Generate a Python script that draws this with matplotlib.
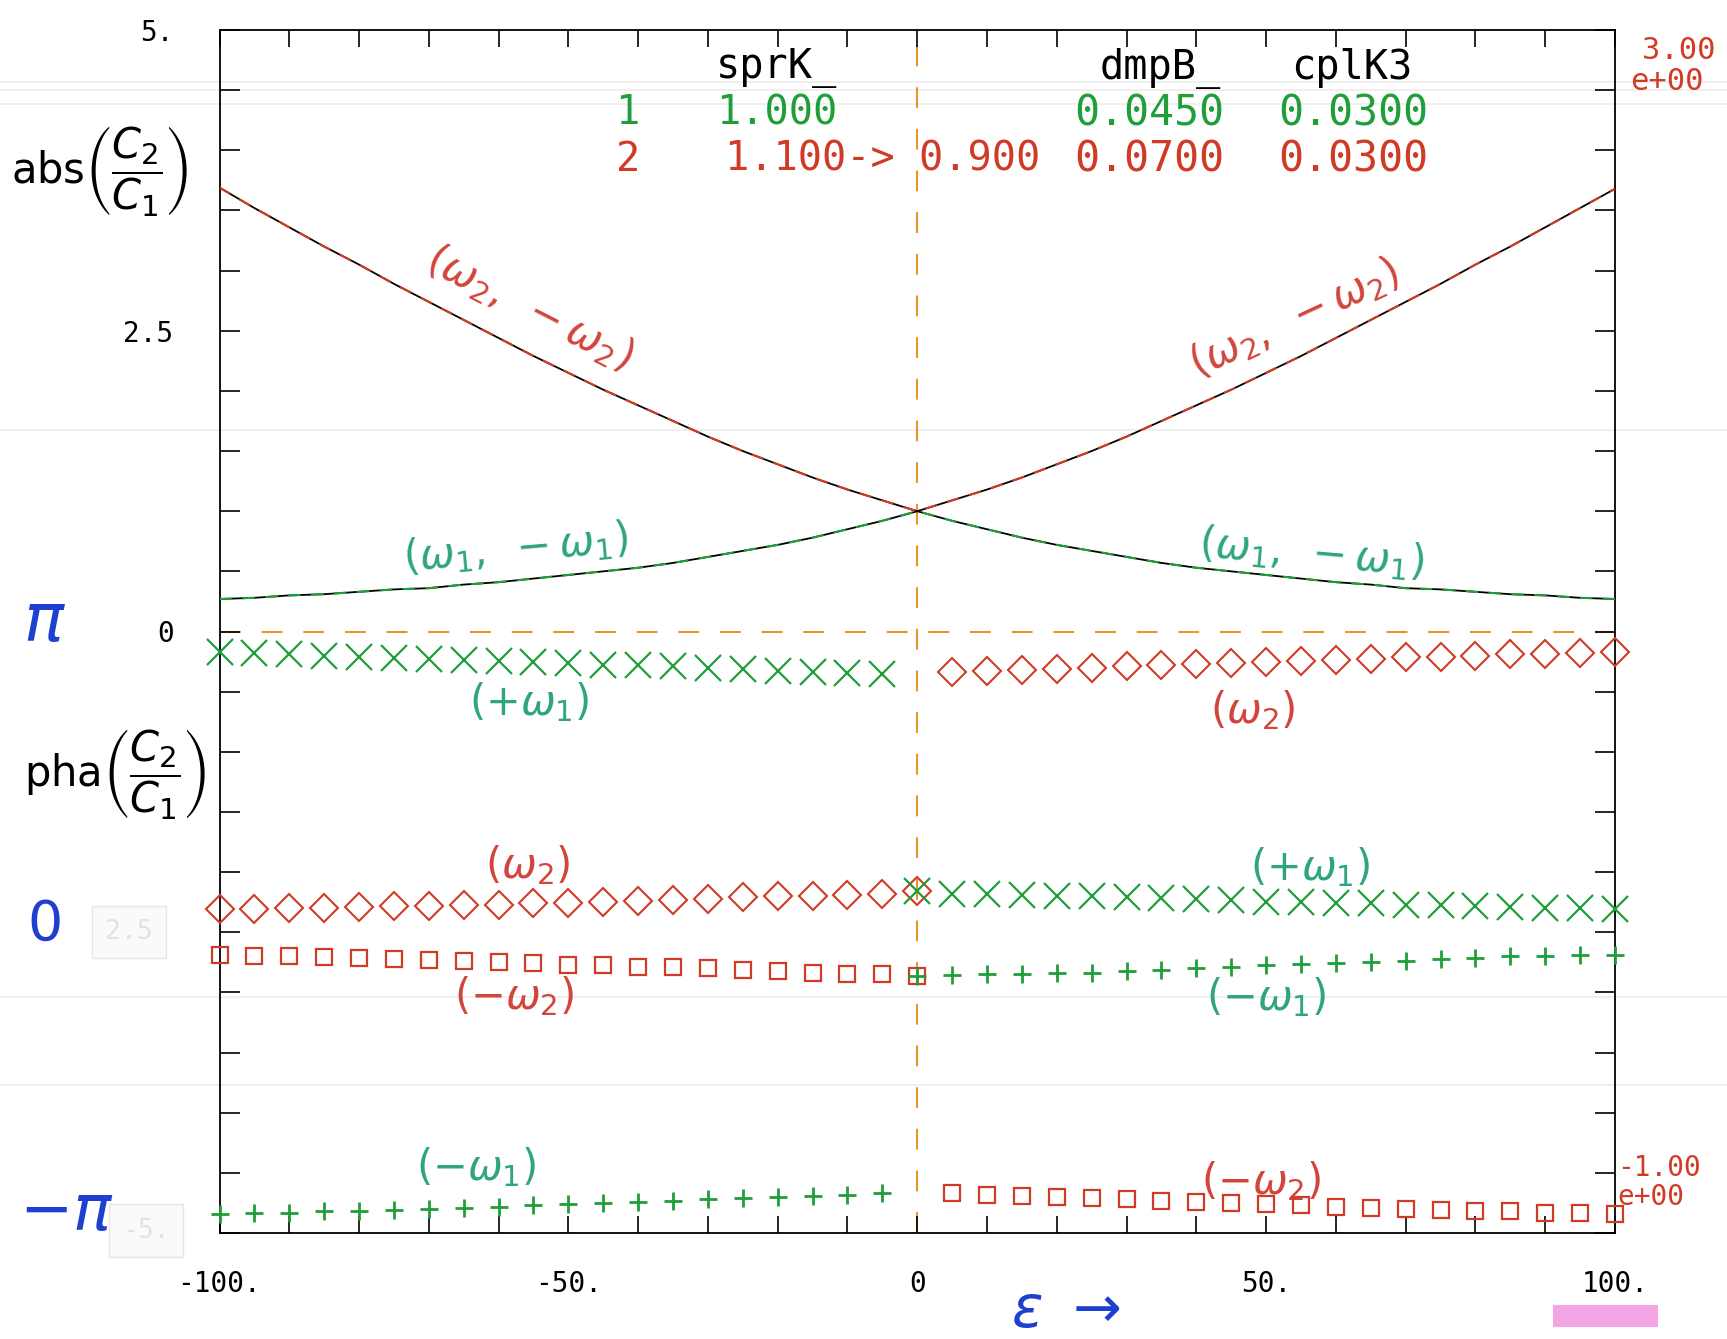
from matplotlib import pyplot
from matplotlib.lines import Line2D

pyplot.rcParams['font.family'] = ['DejaVu Sans Mono', 'DejaVu Sans']

# epsilon scan, amplitude ratio curves (step 5)
eps_curve = list(range(-100, 101, 5))
abs_w2 = [3.69, 3.52, 3.36, 3.20, 3.05, 2.89, 2.74, 2.59, 2.44, 2.29, 2.15,
          2.01, 1.88, 1.75, 1.62, 1.50, 1.39, 1.28, 1.18, 1.09, 1.00,
          1.09, 1.18, 1.28, 1.39, 1.50, 1.62, 1.75, 1.88, 2.01, 2.15,
          2.29, 2.44, 2.59, 2.74, 2.89, 3.05, 3.20, 3.36, 3.52, 3.68]
abs_w1 = [0.27, 0.28, 0.30, 0.31, 0.33, 0.35, 0.36, 0.39, 0.41, 0.44, 0.47,
          0.50, 0.53, 0.57, 0.62, 0.67, 0.72, 0.78, 0.85, 0.92, 1.00,
          0.92, 0.85, 0.78, 0.72, 0.67, 0.62, 0.57, 0.53, 0.50, 0.47,
          0.44, 0.41, 0.39, 0.36, 0.35, 0.33, 0.31, 0.30, 0.28, 0.27]

# phase points (plotted in the lower half of the frame)
eps_left = list(range(-100, 0, 5))     # -100 .. -5
eps_left0 = list(range(-100, 1, 5))    # -100 .. 0
eps_right = list(range(5, 101, 5))     # 5 .. 100
eps_right0 = list(range(0, 101, 5))    # 0 .. 100

pha_pw1_left = [-0.17, -0.18, -0.19, -0.20, -0.21, -0.22, -0.23, -0.235, -0.245, -0.255,
                -0.26, -0.275, -0.28, -0.29, -0.30, -0.315, -0.325, -0.335, -0.345, -0.355]
pha_pw1_right = [-2.16, -2.18, -2.185, -2.19, -2.195, -2.20, -2.21, -2.215, -2.225, -2.235, -2.245,
                 -2.25, -2.255, -2.26, -2.27, -2.275, -2.28, -2.29, -2.295, -2.30, -2.31]
pha_w2_left = [-2.31, -2.305, -2.30, -2.295, -2.29, -2.285, -2.28, -2.275, -2.27, -2.26, -2.255,
               -2.25, -2.24, -2.23, -2.22, -2.21, -2.20, -2.195, -2.19, -2.185, -2.16]
pha_w2_right = [-0.34, -0.33, -0.32, -0.31, -0.30, -0.29, -0.28, -0.27, -0.26, -0.25,
                -0.245, -0.235, -0.225, -0.215, -0.21, -0.20, -0.19, -0.185, -0.175, -0.17]
pha_mw2_left = [-2.69, -2.695, -2.70, -2.705, -2.71, -2.725, -2.73, -2.74, -2.745, -2.755, -2.77,
                -2.775, -2.785, -2.79, -2.80, -2.815, -2.825, -2.835, -2.845, -2.85, -2.86]
pha_mw2_right = [-4.67, -4.68, -4.69, -4.70, -4.71, -4.72, -4.73, -4.74, -4.75, -4.76,
                 -4.77, -4.78, -4.79, -4.80, -4.81, -4.815, -4.82, -4.83, -4.835, -4.84]
pha_mw1_left = [-4.84, -4.835, -4.83, -4.82, -4.815, -4.81, -4.80, -4.79, -4.78, -4.77,
                -4.76, -4.75, -4.74, -4.73, -4.72, -4.71, -4.70, -4.69, -4.68, -4.67]
pha_mw1_right = [-2.86, -2.855, -2.85, -2.845, -2.84, -2.835, -2.825, -2.815, -2.80, -2.79, -2.775,
                 -2.765, -2.755, -2.745, -2.735, -2.72, -2.71, -2.70, -2.695, -2.69, -2.685]

x_ticks = list(range(-100, 101, 10))
x_ticklabels = {-100: '-100.', -50: '-50.', 0: '0', 50: '50.', 100: '100.'}
y_ticks = [v / 2 for v in range(-10, 11)]
y_ticklabels = {5.0: '5.', 2.5: '2.5', 0.0: '0'}

# table of run parameters
head_cols = ['sprK_', 'dmpB_', 'cplK3']
run1 = ['1', '1.000', '0.0450', '0.0300']
run2 = ['2', '1.100-> 0.900', '0.0700', '0.0300']

GREEN = '#1f9e3a'
RED = '#d13a24'
ORANGE = '#e8962a'
PEN_RED = '#d2453c'
PEN_GREEN = '#2ea57e'
PEN_BLUE = '#1f3fd0'

W, H = 1727, 1339
fig = pyplot.figure(figsize=(W / 100, H / 100), dpi=100)
fig.patch.set_facecolor('white')

# faint ruled lines from the paper
for yy in [82, 90, 104, 430, 997, 1085]:
    fig.add_artist(Line2D([0, 1], [1 - yy / H] * 2, transform=fig.transFigure,
                          color='#ececec', lw=1.2, zorder=0))

ax = fig.add_axes([219.5 / W, 1 - 1233 / H, (1615 - 219.5) / W, 1203 / H])
ax.patch.set_facecolor('none')
ax.set_xlim(-100, 100)
ax.set_ylim(-5, 5)

# dashed zero lines
ax.axhline(0, color=ORANGE, lw=1.5, dashes=(10, 10), zorder=1)
ax.axvline(0, color=ORANGE, lw=1.5, dashes=(10, 10), zorder=1)

# amplitude ratio: black trace with the coloured one dashed over it
ax.plot(eps_curve, abs_w2, color='k', lw=1.3, zorder=2)
ax.plot(eps_curve, abs_w2, color=RED, lw=1.5, dashes=(6, 5), zorder=3)
ax.plot(eps_curve, abs_w1, color='k', lw=1.3, zorder=2)
ax.plot(eps_curve, abs_w1, color=GREEN, lw=1.5, dashes=(6, 5), zorder=3)

# phase markers
mk = dict(ls='none', clip_on=False, zorder=4)
ax.plot(eps_left0, pha_w2_left, marker='D', ms=14, mfc='none', mec=RED, mew=1.5, **mk)
ax.plot(eps_right, pha_w2_right, marker='D', ms=14, mfc='none', mec=RED, mew=1.5, **mk)
ax.plot(eps_left, pha_pw1_left, marker='x', ms=19, mec=GREEN, mew=1.6, **mk)
ax.plot(eps_right0, pha_pw1_right, marker='x', ms=19, mec=GREEN, mew=1.6, **mk)
ax.plot(eps_left0, pha_mw2_left, marker='s', ms=12, mfc='none', mec=RED, mew=1.6, **mk)
ax.plot(eps_right, pha_mw2_right, marker='s', ms=12, mfc='none', mec=RED, mew=1.6, **mk)
ax.plot(eps_left, pha_mw1_left, marker='+', ms=13, mec=GREEN, mew=2.0, **mk)
ax.plot(eps_right0, pha_mw1_right, marker='+', ms=13, mec=GREEN, mew=2.0, **mk)

# ticks on all four sides, pointing in
ax.set_xticks(x_ticks)
ax.set_xticklabels([x_ticklabels.get(t, '') for t in x_ticks])
ax.set_yticks(y_ticks)
ax.set_yticklabels([y_ticklabels.get(t, '') for t in y_ticks])
ax.tick_params(axis='x', direction='in', top=True, bottom=True, length=12, width=1.2,
               pad=27, labelsize=20)
ax.tick_params(axis='y', direction='in', left=True, right=True, length=14.5, width=1.2,
               pad=33, labelsize=20)
for sp in ax.spines.values():
    sp.set_linewidth(1.3)

# parameter table
ax.text(-28.8, 4.68, head_cols[0], fontsize=29, va='center')
ax.text(26.1, 4.68, head_cols[1], fontsize=29, va='center')
ax.text(53.6, 4.68, head_cols[2], fontsize=29, va='center')
for row, yy, col in [(run1, 4.31, GREEN), (run2, 3.92, RED)]:
    ax.text(-41.5, yy, row[0], fontsize=29, va='center', ha='center', color=col)
    ax.text(-28.8 if row is run1 else -27.5, yy, row[1], fontsize=29, va='center', color=col)
    ax.text(22.5, yy, row[2], fontsize=30, va='center', color=col)
    ax.text(51.7, yy, row[3], fontsize=30, va='center', color=col)

# right-hand scale values
ax.text(103.9, 4.83, '3.00', fontsize=22, va='center', color=RED, clip_on=False)
ax.text(102.2, 4.57, 'e+00', fontsize=22, va='center', color=RED, clip_on=False)
ax.text(100.3, -4.46, '-1.00', fontsize=20, va='center', color=RED, clip_on=False)
ax.text(100.4, -4.70, 'e+00', fontsize=20, va='center', color=RED, clip_on=False)

# whited-out left labels
ax.text(-113, -2.5, '2.5', fontsize=19, ha='center', va='center', color='#e2e2e2',
        bbox=dict(boxstyle='square,pad=0.5', fc='#fafafa', ec='#e6e6e6'), clip_on=False)
ax.text(-110.5, -4.98, '-5.', fontsize=19, ha='center', va='center', color='#e2e2e2',
        bbox=dict(boxstyle='square,pad=0.5', fc='#fafafa', ec='#e6e6e6'), clip_on=False)

# pen notes along the branches
pen = dict(fontsize=30, ha='center', va='center', clip_on=False)
ax.text(-55.6, 2.69, r'$(\omega_2,\ -\omega_2)$', color=PEN_RED, rotation=-27, **pen)
ax.text(54.0, 2.60, r'$(\omega_2,\ -\omega_2)$', color=PEN_RED, rotation=25, **pen)
ax.text(-57.6, 0.69, r'$(\omega_1,\ -\omega_1)$', color=PEN_GREEN, rotation=5, **pen)
ax.text(56.5, 0.65, r'$(\omega_1,\ -\omega_1)$', color=PEN_GREEN, rotation=-5, **pen)
ax.text(-55.6, -0.59, r'$(+\omega_1)$', color=PEN_GREEN, **pen)
ax.text(48.1, -0.65, r'$(\omega_2)$', color=PEN_RED, **pen)
ax.text(-55.8, -1.94, r'$(\omega_2)$', color=PEN_RED, **pen)
ax.text(56.3, -1.96, r'$(+\omega_1)$', color=PEN_GREEN, **pen)
ax.text(-57.7, -3.03, r'$(-\omega_2)$', color=PEN_RED, **pen)
ax.text(50.0, -3.04, r'$(-\omega_1)$', color=PEN_GREEN, **pen)
ax.text(-63.2, -4.45, r'$(-\omega_1)$', color=PEN_GREEN, **pen)
ax.text(49.3, -4.57, r'$(-\omega_2)$', color=PEN_RED, **pen)

# axis names written by hand
fig.text(100 / W, 1 - 172 / H, r'abs$\left(\dfrac{C_2}{C_1}\right)$', fontsize=30,
         ha='center', va='center', family='DejaVu Sans')
fig.text(115 / W, 1 - 775 / H, r'pha$\left(\dfrac{C_2}{C_1}\right)$', fontsize=30,
         ha='center', va='center', family='DejaVu Sans')
fig.text(44 / W, 1 - 622 / H, r'$\pi$', fontsize=48, color=PEN_BLUE, ha='center', va='center')
fig.text(44 / W, 1 - 925 / H, r'$0$', fontsize=40, color=PEN_BLUE, ha='center', va='center')
fig.text(66 / W, 1 - 1212 / H, r'$-\pi$', fontsize=46, color=PEN_BLUE, ha='center', va='center')
fig.text(1066 / W, 1 - 1310 / H, r'$\epsilon\ \rightarrow$', fontsize=42, color=PEN_BLUE,
         ha='center', va='center')

# highlighter stroke under the last x label
fig.add_artist(Line2D([1553 / W, 1658 / W], [1 - 1316 / H] * 2, transform=fig.transFigure,
                      color='#f3a5e6', lw=16, solid_capstyle='butt', zorder=0))

fig.savefig('out.png', dpi=100)
